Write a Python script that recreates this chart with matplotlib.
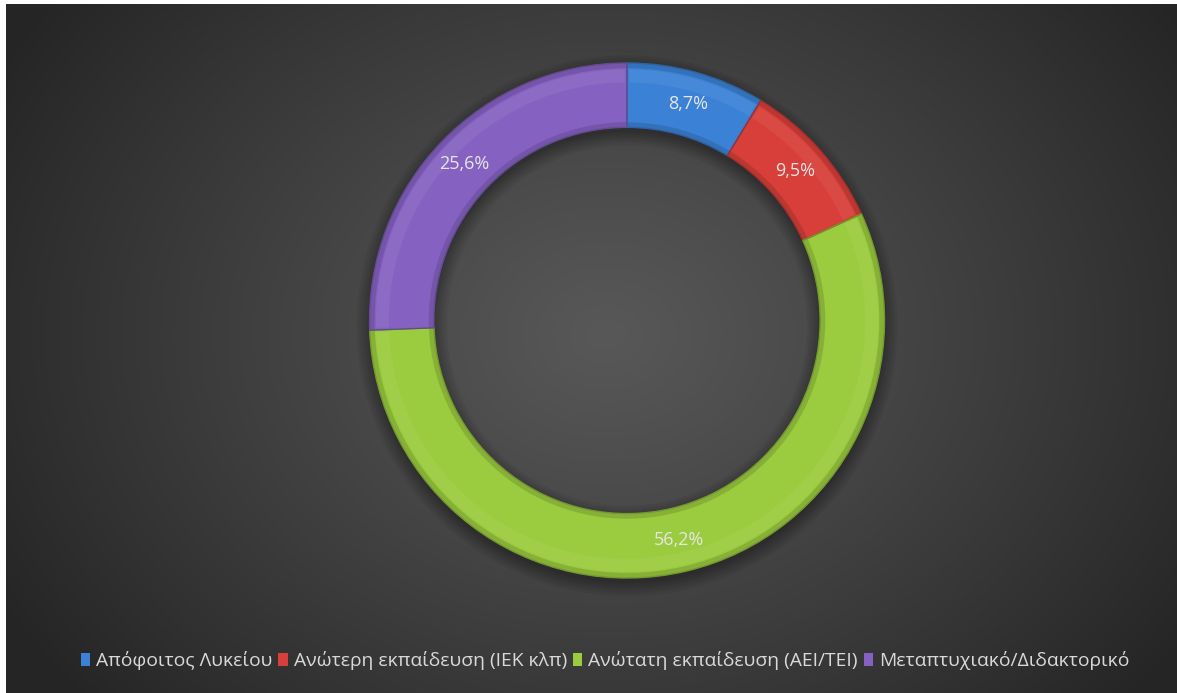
import numpy as np
import matplotlib
matplotlib.use("Agg")
import matplotlib.pyplot as plt
from matplotlib.patches import Patch, Wedge
import matplotlib.colors as mcolors

plt.rcParams['font.family'] = ['Open Sans', 'DejaVu Sans']

categories = ["Απόφοιτος Λυκείου", "Ανώτερη εκπαίδευση (ΙΕΚ κλπ)",
              "Ανώτατη εκπαίδευση (ΑΕΙ/ΤΕΙ)", "Μεταπτυχιακό/Διδακτορικό"]
values = [8.7, 9.5, 56.2, 25.6]
labels = ["8,7%", "9,5%", "56,2%", "25,6%"]
colors = ["#3b82d6", "#d83f3a", "#9bcb3e", "#8562c2"]

W, H = 1177, 693
fig = plt.figure(figsize=(W / 100, H / 100), dpi=100, facecolor="white")

# dark radial-gradient chart area
bg = fig.add_axes([6 / W, 0, (W - 6) / W, (H - 4) / H])
bg.set_axis_off()
yy, xx = np.mgrid[0:H - 4, 0:W - 6]
cx, cy = 600, 330
d = np.sqrt(((xx - cx) / 1.25) ** 2 + ((yy - cy) / 1.0) ** 2)
t = np.clip(d / 560, 0, 1) ** 1.1
c0, c1 = 0x58 / 255, 0x25 / 255
g = c0 + (c1 - c0) * t
img = np.dstack([g, g, g])
bg.imshow(img, aspect="auto", interpolation="bilinear")

# donut
R_px = 257.5
lim = 1.08
size_px = 2 * lim * R_px
cx_px, cy_px = 627, 320.5
ax = fig.add_axes([(cx_px - size_px / 2) / W, (H - cy_px - size_px / 2) / H,
                   size_px / W, size_px / H])
ax.set_axis_off()
ax.patch.set_alpha(0)

width = 0.25
# soft shadow beneath the ring
for k, a in zip(range(6), [0.05, 0.05, 0.05, 0.06, 0.06, 0.07]):
    sh = Wedge((0.0, -0.02), 1.0 + 0.01 * (5 - k), 0, 360,
               width=width + 0.02 * (5 - k), facecolor="black", alpha=a, lw=0)
    ax.add_patch(sh)

wedges, _ = ax.pie(values, colors=colors, startangle=90, counterclock=False,
                   radius=1.0, wedgeprops=dict(width=width, linewidth=0))
ax.set_xlim(-lim, lim)
ax.set_ylim(-lim, lim)
ax.set_aspect("equal")

# bevel: soft darker rims and a light band on each segment
for w, col in zip(wedges, colors):
    base = np.array(mcolors.to_rgb(col))
    dark = base * 0.75
    light = base + (1 - base) * 0.2
    t1, t2 = w.theta1, w.theta2
    ax.add_patch(Wedge((0, 0), 1.0, t1, t2, width=0.02, facecolor=dark, lw=0, alpha=0.5))
    ax.add_patch(Wedge((0, 0), 1.0 - width + 0.02, t1, t2, width=0.02, facecolor=dark, lw=0, alpha=0.5))
    ax.add_patch(Wedge((0, 0), 0.975, t1 + 0.5, t2 - 0.5, width=0.05, facecolor=light, lw=0, alpha=0.3))
    ax.add_patch(Wedge((0, 0), 1.0, t1, t2, width=width, facecolor="none",
                       edgecolor=dark, lw=1.0))

# value labels at mid-ring
mid_r = 1.0 - width / 2
for w, lab in zip(wedges, labels):
    ang = np.deg2rad((w.theta1 + w.theta2) / 2)
    ax.text(mid_r * np.cos(ang), mid_r * np.sin(ang), lab, ha="center", va="center",
            fontsize=13, color="#e6e6e6")

handles = [Patch(facecolor=c, edgecolor="none") for c in colors]
fig.legend(handles, categories, loc="center", bbox_to_anchor=(605 / W, 1 - 661 / H),
           ncol=4, frameon=False, fontsize=13.9, labelcolor="#d9d9d9",
           handlelength=0.5, handleheight=0.65, handletextpad=0.3, columnspacing=0.3)

fig.savefig("out.png", dpi=100, facecolor=fig.get_facecolor())
